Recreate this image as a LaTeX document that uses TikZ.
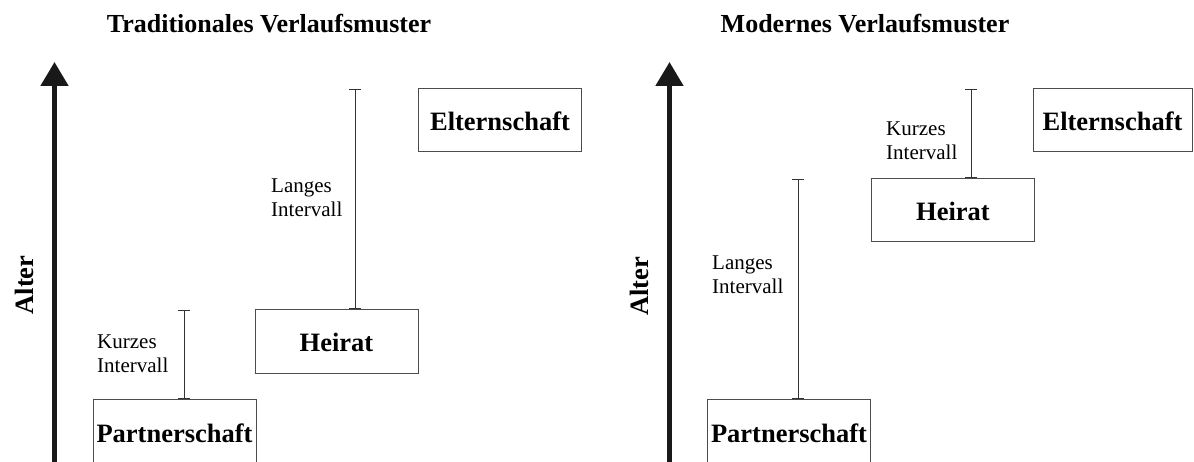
\documentclass[tikz,border=0pt]{standalone}
\usepackage{fontspec}
\setmainfont{Liberation Serif}
\usetikzlibrary{arrows.meta}
\begin{document}
\begin{tikzpicture}[x=1pt,y=-1pt,
  box/.style={draw=black!70,line width=1pt,minimum width=163pt,minimum height=63pt,inner sep=0pt,
    font=\fontsize{26.5}{30}\selectfont\bfseries,text height=20pt,text depth=0pt},
  lbl/.style={font=\fontsize{21}{24}\selectfont,align=left,inner sep=0pt,anchor=west},
  ttl/.style={font=\fontsize{26}{30}\selectfont\bfseries,inner sep=0pt,anchor=base},
  interval/.style={draw=black!80,line width=1pt,{Bar[width=12pt]}-{Bar[width=12pt]}},
  axis/.style={draw=black!90,fill=black!90,line width=5pt,-{Triangle[width=27pt,length=24pt]}},
  alter/.style={font=\fontsize{26.5}{30}\selectfont\bfseries,rotate=90,anchor=base,inner sep=0pt}]
\useasboundingbox (0,0) rectangle (1194,462);
\clip (0,0) rectangle (1194,462);

% titles
\node[ttl] (tL) at (269,33) {Traditionales Verlaufsmuster};
\node[ttl] (tR) at (865,33) {Modernes Verlaufsmuster};

% age axes
\coordinate (axLbot) at (54.5,475);
\coordinate (axLtop) at (54.5,62);
\draw[axis] (axLbot) -- (axLtop);
\coordinate (axRbot) at (669.5,475);
\coordinate (axRtop) at (669.5,62);
\draw[axis] (axRbot) -- (axRtop);
\node[alter] (aL) at (33,285) {Alter};
\node[alter] (aR) at (648,286.5) {Alter};

% boxes left
\node[box,text height=23pt] (paL) at (174.5,430.5) {Partnerschaft};
\node[box] (heL) at (336.5,341.5) {Heirat};
\node[box] (elL) at (500,120.5) {Elternschaft};
% boxes right
\node[box,text height=23pt] (paR) at (789,430.5) {Partnerschaft};
\node[box] (heR) at (953,210.5) {Heirat};
\node[box,minimum width=159pt] (elR) at (1112.5,120.5) {Elternschaft};

% intervals
\coordinate (iL1) at (184,310);
\draw[interval] (iL1 |- paL.north) -- (iL1);
\coordinate (iL2) at (355,89);
\draw[interval] (iL2 |- heL.north) -- (iL2);
\coordinate (iR1) at (798,179);
\draw[interval] (iR1 |- paR.north) -- (iR1);
\coordinate (iR2) at (971,89);
\draw[interval] (iR2 |- heR.north) -- (iR2);

% interval labels
\node[lbl] (kL) at (97,354) {Kurzes\\Intervall};
\node[lbl] (lL) at (271,198) {Langes\\Intervall};
\node[lbl] (lR) at (712,274.5) {Langes\\Intervall};
\node[lbl] (kR) at (886,141) {Kurzes\\Intervall};
\end{tikzpicture}
\end{document}
